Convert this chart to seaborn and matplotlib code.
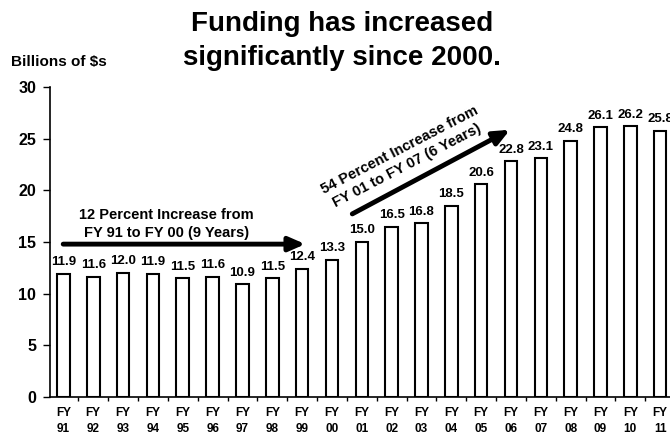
import matplotlib
matplotlib.use("Agg")
import matplotlib.pyplot as plt
import seaborn as sns
import pandas as pd

sns.set_theme(style="white")
plt.rcParams["font.family"] = ["Liberation Sans", "DejaVu Sans"]
plt.rcParams["text.color"] = "black"
plt.rcParams["xtick.color"] = "black"
plt.rcParams["ytick.color"] = "black"

years = ["91", "92", "93", "94", "95", "96", "97", "98", "99", "00", "01",
         "02", "03", "04", "05", "06", "07", "08", "09", "10", "11"]
funding = [11.9, 11.6, 12.0, 11.9, 11.5, 11.6, 10.9, 11.5, 12.4, 13.3, 15.0,
           16.5, 16.8, 18.5, 20.6, 22.8, 23.1, 24.8, 26.1, 26.2, 25.8]
tick_labels = [f"FY\n{y}" for y in years]
yticks = [0, 5, 10, 15, 20, 25, 30]

df = pd.DataFrame({"year": tick_labels, "funding": funding})

fig = plt.figure(figsize=(6.70, 4.38), dpi=100)
ax = fig.add_axes([0.0746, 0.0936, 0.9254, 0.7075])

sns.barplot(data=df, x="year", y="funding", color="white", edgecolor="black",
            linewidth=1.5, width=0.42, saturation=1, ax=ax)

ax.set_xlim(-0.45, 20.33)
ax.set_ylim(0, 30)
ax.set_yticks(yticks)
ax.set_yticklabels([str(t) for t in yticks], fontsize=11.5, fontweight="bold")
ax.set_xlabel("")
ax.set_ylabel("")

# value labels above bars
for i, v in enumerate(funding):
    ax.text(i, v + 0.55, f"{v:.1f}", ha="center", va="bottom",
            fontsize=9.5, fontweight="bold",
            family=["Liberation Sans Narrow", "Liberation Sans"])

# x tick labels centred under bars, tick marks between bars
ax.set_xticks(range(len(years)))
ax.set_xticklabels(tick_labels, fontsize=8.5, fontweight="bold", linespacing=1.45)
ax.tick_params(axis="x", length=0, pad=7)
ax.set_xticks([i + 0.5 for i in range(len(years) - 1)], minor=True)
ax.tick_params(axis="x", which="minor", bottom=True, length=3, width=1,
               color="black", direction="out")
ax.tick_params(axis="y", left=True, length=5, width=1, color="black",
               direction="out", pad=5)

for s in ["top", "right"]:
    ax.spines[s].set_visible(False)
for s in ["left", "bottom"]:
    ax.spines[s].set_color("black")
    ax.spines[s].set_linewidth(1.2)

# growth arrows and annotations
arrow_style = dict(arrowstyle="-|>,head_length=0.8,head_width=0.35",
                   color="black", lw=3.5)
ax.annotate("", xy=(8.2, 14.8), xytext=(-0.1, 14.8), arrowprops=arrow_style)
ax.text(3.45, 16.75, "12 Percent Increase from\nFY 91 to FY 00 (9 Years)",
        ha="center", va="center", fontsize=10.5, fontweight="bold",
        linespacing=1.3)

ax.annotate("", xy=(15.05, 26.0), xytext=(9.6, 17.6), arrowprops=arrow_style)
ax.text(11.4, 23.15, "54 Percent Increase from\nFY 01 to FY 07 (6 Years)",
        ha="center", va="center", fontsize=10.5, fontweight="bold",
        rotation=27.5, rotation_mode="anchor", linespacing=1.25)

fig.text(0.51, 0.975, "Funding has increased\nsignificantly since 2000.",
         ha="center", va="top", fontsize=20, fontweight="bold", linespacing=1.42)
fig.text(0.016, 0.858, "Billions of $s", ha="left", va="center",
         fontsize=11, fontweight="bold")

fig.savefig("out.png", dpi=100, facecolor="white")
